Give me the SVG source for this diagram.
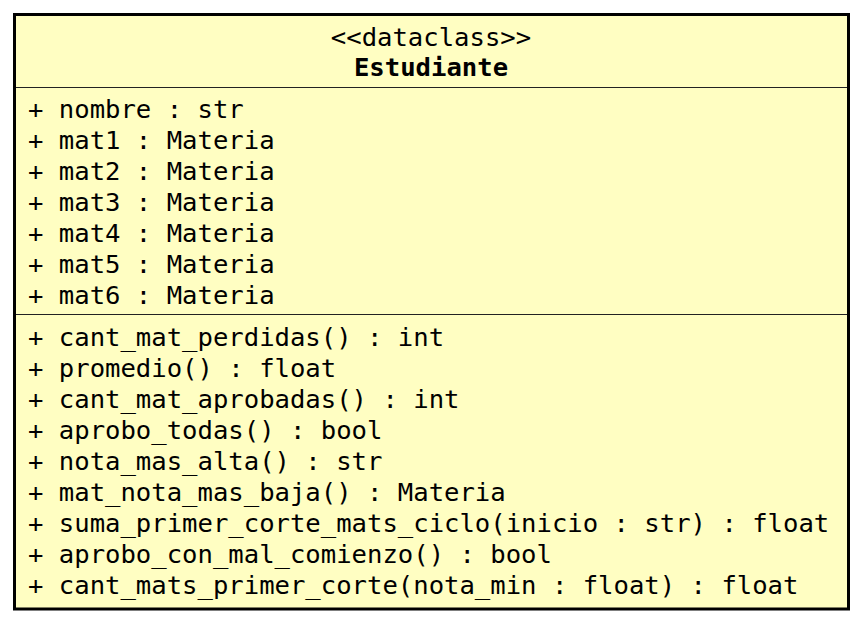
<svg xmlns="http://www.w3.org/2000/svg" width="862" height="624" viewBox="0 0 862 624">
<style>
.t{font-family:"DejaVu Sans Mono","Liberation Mono",monospace;font-size:25.6px;fill:#000}
.b{font-weight:bold}
.sep{stroke:#222;stroke-width:1.2}
</style>
<rect width="862" height="624" fill="#fff"/>
<g id="Estudiante">
<rect x="14.5" y="14.5" width="834" height="594.5" fill="#FFFEC2" stroke="#000" stroke-width="3"/>
<text class="t" x="431" y="46" text-anchor="middle">&lt;&lt;dataclass&gt;&gt;</text>
<text class="t b" x="431" y="76" text-anchor="middle">Estudiante</text>
<line class="sep" x1="16" y1="87.5" x2="847" y2="87.5"/>
<text class="t" x="28" y="118">+ nombre : str</text>
<text class="t" x="28" y="149">+ mat1 : Materia</text>
<text class="t" x="28" y="180">+ mat2 : Materia</text>
<text class="t" x="28" y="211">+ mat3 : Materia</text>
<text class="t" x="28" y="242">+ mat4 : Materia</text>
<text class="t" x="28" y="273">+ mat5 : Materia</text>
<text class="t" x="28" y="304">+ mat6 : Materia</text>
<line class="sep" x1="16" y1="314.5" x2="847" y2="314.5"/>
<text class="t" x="28" y="346">+ cant_mat_perdidas() : int</text>
<text class="t" x="28" y="377">+ promedio() : float</text>
<text class="t" x="28" y="408">+ cant_mat_aprobadas() : int</text>
<text class="t" x="28" y="439">+ aprobo_todas() : bool</text>
<text class="t" x="28" y="470">+ nota_mas_alta() : str</text>
<text class="t" x="28" y="501">+ mat_nota_mas_baja() : Materia</text>
<text class="t" x="28" y="532">+ suma_primer_corte_mats_ciclo(inicio : str) : float</text>
<text class="t" x="28" y="563">+ aprobo_con_mal_comienzo() : bool</text>
<text class="t" x="28" y="594">+ cant_mats_primer_corte(nota_min : float) : float</text>
</g>
<g id="connectors"/>
</svg>
